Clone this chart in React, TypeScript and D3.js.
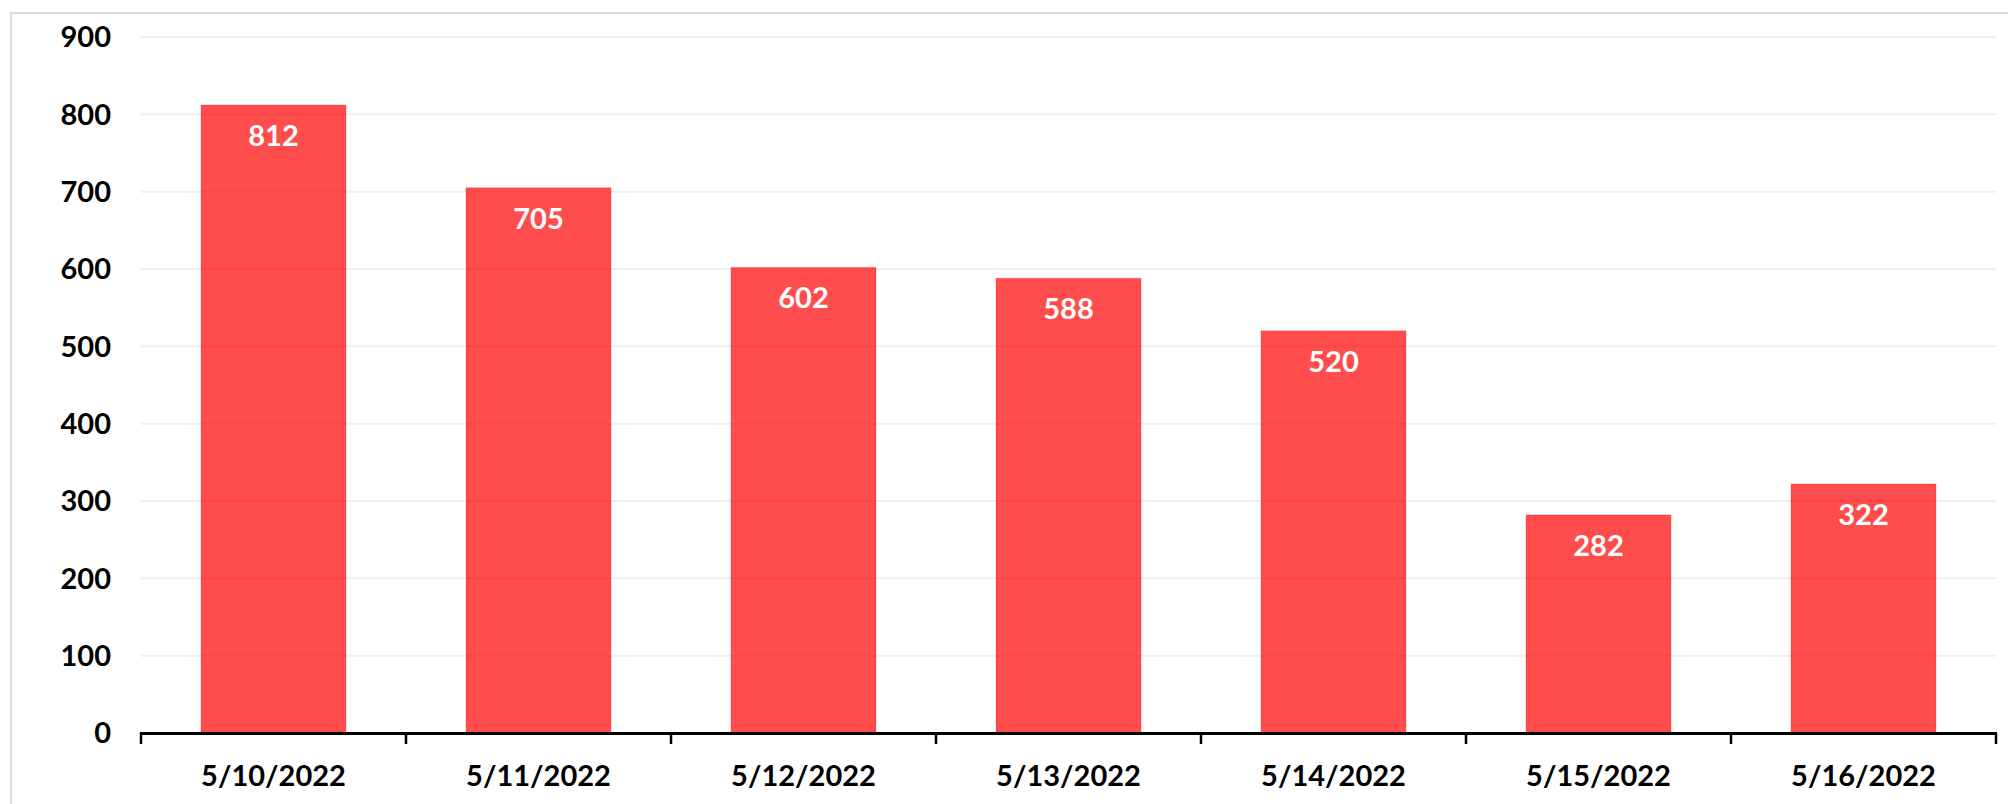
import { useEffect, useRef } from "react";
import * as d3 from "d3";

const dates = [
  "5/10/2022",
  "5/11/2022",
  "5/12/2022",
  "5/13/2022",
  "5/14/2022",
  "5/15/2022",
  "5/16/2022",
];
const counts = [812, 705, 602, 588, 520, 282, 322];
const yTicks = [0, 100, 200, 300, 400, 500, 600, 700, 800, 900];

const FONT = "Lato, Calibri, 'Open Sans', sans-serif";

export default function App() {
  const svgRef = useRef<SVGSVGElement>(null);

  useEffect(() => {
    const svg = d3.select(svgRef.current);
    svg.selectAll("*").remove(); // Clear previous render

    const width = 2008;
    const height = 804;
    const left = 141;
    const right = 1996;
    const top = 37;
    const bottom = 733;

    // outer frame (cropped on the right and bottom)
    svg
      .append("rect")
      .attr("x", 11)
      .attr("y", 13)
      .attr("width", width + 40)
      .attr("height", height + 40)
      .attr("fill", "white")
      .attr("stroke", "#d9d9d9")
      .attr("stroke-width", 2);

    const x = d3
      .scaleBand()
      .domain(dates)
      .range([left, right])
      .paddingInner(0.453)
      .paddingOuter(0.2265);

    const y = d3.scaleLinear().domain([0, 900]).range([bottom, top]);

    // Gridlines
    svg
      .append("g")
      .selectAll("line")
      .data(yTicks.filter((t) => t > 0))
      .join("line")
      .attr("x1", left)
      .attr("x2", right)
      .attr("y1", (d) => y(d))
      .attr("y2", (d) => y(d))
      .attr("stroke", "#efefef")
      .attr("stroke-width", 2);

    // Y labels
    svg
      .append("g")
      .selectAll("text")
      .data(yTicks)
      .join("text")
      .attr("x", 111)
      .attr("y", (d) => y(d))
      .attr("dy", "0.36em")
      .attr("text-anchor", "end")
      .style("font-family", FONT)
      .style("font-weight", "bold")
      .style("font-size", "29px")
      .attr("fill", "#000")
      .text((d) => d);

    // Bars
    svg
      .append("g")
      .selectAll("rect")
      .data(counts)
      .join("rect")
      .attr("x", (_, i) => x(dates[i])!)
      .attr("y", (d) => y(d))
      .attr("width", x.bandwidth())
      .attr("height", (d) => y(0) - y(d))
      .attr("fill", "#ff0000")
      .attr("fill-opacity", 0.7)
      .attr("stroke", "#ff0000")
      .attr("stroke-opacity", 0.25)
      .attr("stroke-width", 1);

    // Value labels inside bars
    svg
      .append("g")
      .selectAll("text")
      .data(counts)
      .join("text")
      .attr("x", (_, i) => x(dates[i])! + x.bandwidth() / 2)
      .attr("y", (d) => y(d) + 41)
      .attr("text-anchor", "middle")
      .style("font-family", FONT)
      .style("font-weight", "bold")
      .style("font-size", "29px")
      .attr("fill", "#fff")
      .text((d) => d);

    // X axis line and boundary ticks
    const step = x.step();
    const boundaries = d3.range(dates.length + 1).map((i) => left + i * step);
    svg
      .append("g")
      .selectAll("line")
      .data(boundaries)
      .join("line")
      .attr("x1", (d) => d)
      .attr("x2", (d) => d)
      .attr("y1", bottom)
      .attr("y2", bottom + 11)
      .attr("stroke", "#000")
      .attr("stroke-width", 2.5);

    svg
      .append("line")
      .attr("x1", left - 1)
      .attr("x2", right + 1)
      .attr("y1", bottom + 0.5)
      .attr("y2", bottom + 0.5)
      .attr("stroke", "#000")
      .attr("stroke-width", 3);

    // X labels
    svg
      .append("g")
      .selectAll("text")
      .data(dates)
      .join("text")
      .attr("x", (d) => x(d)! + x.bandwidth() / 2)
      .attr("y", 786)
      .attr("text-anchor", "middle")
      .style("font-family", FONT)
      .style("font-weight", "bold")
      .style("font-size", "29px")
      .attr("fill", "#000")
      .text((d) => d);
  }, []);

  return (
    <svg
      ref={svgRef}
      width={2008}
      height={804}
      style={{ position: "absolute", left: 0, top: 0, background: "#fff" }}
    />
  );
}
